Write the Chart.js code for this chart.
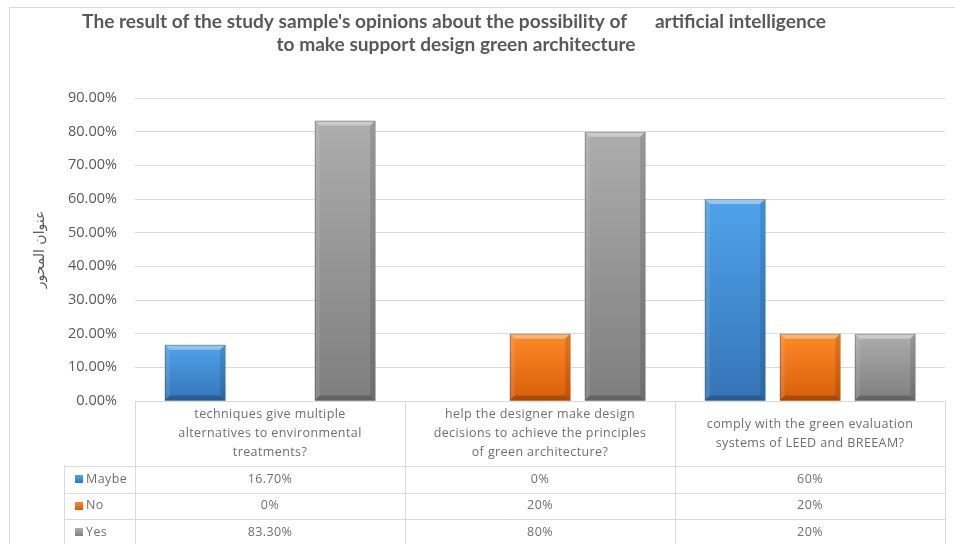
<!DOCTYPE html>
<html><head><meta charset="utf-8">
<script src="https://cdn.jsdelivr.net/npm/chart.js@4.4.1/dist/chart.umd.min.js"></script>
<style>html,body{margin:0;padding:0;background:#fff;}canvas{display:block;}</style>
</head><body>
<canvas id="c" width="955" height="544"></canvas>
<script>
// ---- data ----
const categories = [
  ["techniques give multiple", "alternatives to environmental", "treatments?"],
  ["help the designer make design", "decisions to achieve the principles", "of green architecture?"],
  ["comply with the green evaluation", "systems of LEED and BREEAM?"]
];
const seriesNames = ["Maybe", "No", "Yes"];
const maybeValues = [16.7, 0, 60];
const noValues = [0, 20, 20];
const yesValues = [83.3, 80, 20];
const titleLines = [
  "The result of the study sample's opinions about the possibility of      artificial intelligence",
  "to make support design green architecture"
];
const yAxisTitle = "عنوان المحور";

// ---- styles ----
const palette = [
  {top: "#4fa3ec", bottom: "#3574b6", key: "#3f8ad4"},
  {top: "#ff8a26", bottom: "#d65e0c", key: "#ec7418"},
  {top: "#adadad", bottom: "#7e7e7e", key: "#939393"}
];
const textGray = "#595959";
const tableGray = "#6f6f6f";
const lineGray = "#d9d9d9";

function fmt(v) { return Number.isInteger(v) ? v + "%" : v.toFixed(2) + "%"; }

function gradFor(i) {
  return (ctx) => {
    const chart = ctx.chart;
    const ys = chart.scales && chart.scales.y;
    if (!ys || ctx.raw === undefined) return palette[i].key;
    const top = ys.getPixelForValue(ctx.raw);
    const bot = ys.getPixelForValue(0);
    if (!isFinite(top) || Math.abs(bot - top) < 1) return palette[i].key;
    const g = chart.ctx.createLinearGradient(0, top, 0, bot);
    g.addColorStop(0, palette[i].top);
    g.addColorStop(1, palette[i].bottom);
    return g;
  };
}

const allSeries = [maybeValues, noValues, yesValues];

const bgPlugin = {
  id: "bg",
  beforeDraw(chart) {
    const c = chart.ctx;
    c.save();
    c.fillStyle = "#fff";
    c.fillRect(0, 0, chart.width, chart.height);
    c.strokeStyle = lineGray;
    c.lineWidth = 1;
    c.beginPath();
    c.moveTo(9.5, chart.height);
    c.lineTo(9.5, 7.5);
    c.lineTo(chart.width, 7.5);
    c.stroke();
    // title
    c.fillStyle = textGray;
    c.textAlign = "center";
    c.textBaseline = "middle";
    c.font = "bold 16px Lato";
    const w = c.measureText(titleLines[0]).width;
    const size = 16 * 744 / w;
    c.font = "bold " + size.toFixed(2) + "px Lato";
    c.fillText(titleLines[0], 454, 22);
    c.fillText(titleLines[1], 456, 45);
    c.restore();
  }
};

const bevelPlugin = {
  id: "bevel",
  afterDatasetsDraw(chart) {
    const c = chart.ctx;
    c.save();
    chart.data.datasets.forEach((ds, di) => {
      const meta = chart.getDatasetMeta(di);
      meta.data.forEach((el) => {
        const p = el.getProps(["x", "y", "base", "width"], true);
        const l = p.x - p.width / 2, r = p.x + p.width / 2, t = Math.min(p.y, p.base), b = Math.max(p.y, p.base);
        if (b - t < 1) return;
        const bv = Math.min(5, (b - t) / 3);
        const poly = (pts, col) => {
          c.fillStyle = col; c.beginPath();
          c.moveTo(pts[0][0], pts[0][1]);
          for (let k = 1; k < pts.length; k++) c.lineTo(pts[k][0], pts[k][1]);
          c.closePath(); c.fill();
        };
        poly([[l, t], [r, t], [r - bv, t + bv], [l + bv, t + bv]], "rgba(255,255,255,0.38)");
        poly([[l, t], [l + bv, t + bv], [l + bv, b - bv], [l, b]], "rgba(255,255,255,0.10)");
        poly([[r, t], [r - bv, t + bv], [r - bv, b - bv], [r, b]], "rgba(0,0,0,0.12)");
        poly([[l, b], [l + bv, b - bv], [r - bv, b - bv], [r, b]], "rgba(0,0,0,0.22)");
        c.strokeStyle = "rgba(0,0,0,0.18)";
        c.lineWidth = 1;
        c.strokeRect(Math.round(l) + 0.5, Math.round(t) + 0.5, Math.round(r - l) - 1, Math.round(b - t) - 1);
      });
    });
    c.restore();
  }
};

const tablePlugin = {
  id: "dataTable",
  afterDraw(chart) {
    const c = chart.ctx;
    const area = chart.chartArea;
    const xs = chart.scales.x;
    const n = categories.length;
    const catW = (area.right - area.left) / n;
    const top = area.bottom;
    const headerBottom = top + 65;
    const rowH = 26.5;
    const bottom = headerBottom + rowH * seriesNames.length;
    const legendLeft = 64;
    c.save();
    c.strokeStyle = lineGray;
    c.lineWidth = 1;
    const hline = (x1, x2, y) => { c.beginPath(); c.moveTo(x1, Math.round(y) + 0.5); c.lineTo(x2, Math.round(y) + 0.5); c.stroke(); };
    const vline = (x, y1, y2) => { c.beginPath(); c.moveTo(Math.round(x) + 0.5, y1); c.lineTo(Math.round(x) + 0.5, y2); c.stroke(); };
    hline(area.left, area.right, top);
    for (let r = 0; r <= seriesNames.length; r++) hline(legendLeft, area.right, headerBottom + r * rowH);
    vline(legendLeft, headerBottom, bottom);
    for (let i = 0; i <= n; i++) vline(area.left + i * catW, top, bottom);
    // header text
    c.fillStyle = tableGray;
    c.textAlign = "center";
    c.textBaseline = "middle";
    c.font = "12.5px 'Open Sans'";
    try { c.letterSpacing = "0.4px"; } catch (e) {}
    const midH = (top + headerBottom) / 2;
    categories.forEach((lines, i) => {
      const cx = xs.getPixelForValue(i);
      lines.forEach((ln, k) => {
        c.fillText(ln, cx, midH + (k - (lines.length - 1) / 2) * 19);
      });
    });
    // rows
    seriesNames.forEach((name, r) => {
      const cy = headerBottom + r * rowH + rowH / 2;
      allSeries[r].forEach((v, i) => {
        c.textAlign = "center";
        c.fillText(fmt(v), xs.getPixelForValue(i), cy);
      });
      // legend key
      const g = c.createLinearGradient(0, cy - 4, 0, cy + 4);
      g.addColorStop(0, palette[r].top); g.addColorStop(1, palette[r].bottom);
      c.fillStyle = g;
      c.fillRect(75, Math.round(cy - 4), 8, 8);
      c.fillStyle = tableGray;
      c.textAlign = "left";
      c.fillText(name, 86, cy);
    });
    c.restore();
  }
};

new Chart(document.getElementById("c"), {
  type: "bar",
  data: {
    labels: categories,
    datasets: seriesNames.map((name, i) => ({
      label: name,
      data: allSeries[i],
      backgroundColor: gradFor(i),
      borderWidth: 0,
      categoryPercentage: 0.833,
      barPercentage: 0.807
    }))
  },
  options: {
    responsive: false,
    devicePixelRatio: 1,
    animation: false,
    layout: {padding: {top: 98, left: 0, right: 10, bottom: 0}},
    plugins: {legend: {display: false}, title: {display: false}, tooltip: {enabled: false}},
    scales: {
      x: {
        display: true,
        grid: {display: false},
        border: {display: false},
        ticks: {display: false},
        afterFit(s) { s.height = 143; }
      },
      y: {
        min: 0, max: 90,
        ticks: {stepSize: 10, padding: 18, color: textGray, font: {family: "'Open Sans'", size: 14.5},
                callback: (v) => v.toFixed(2) + "%"},
        grid: {color: lineGray, drawTicks: false, lineWidth: 1},
        border: {display: false},
        title: {display: true, text: yAxisTitle, color: textGray, font: {family: "'DejaVu Sans'", size: 14}, padding: {top: 32, bottom: 0}},
        afterFit(s) { s.width = 135; }
      }
    }
  },
  plugins: [bgPlugin, bevelPlugin, tablePlugin]
});
</script>
</body></html>
